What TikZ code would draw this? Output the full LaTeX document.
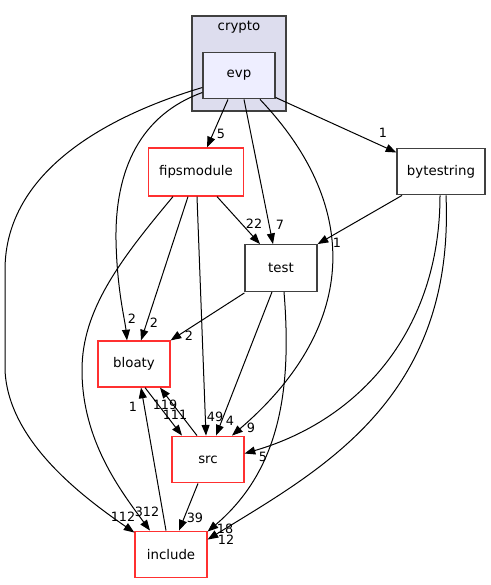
\documentclass[tikz,border=0pt]{standalone}
\usepackage{fontspec}
\setmainfont{DejaVu Sans}
\usetikzlibrary{calc,arrows.meta}
\definecolor{clfill}{HTML}{DDDDEE}
\definecolor{evpfill}{HTML}{EEEEFF}
\definecolor{bord}{HTML}{404040}
\definecolor{redb}{HTML}{FF3030}
\tikzset{
  dirbox/.style={draw=bord, line width=0.9pt, fill=white, minimum width=54pt, minimum height=35pt, inner sep=0pt, font=\fontsize{10}{12}\selectfont},
  redbox/.style={dirbox, draw=redb},
  edge/.style={draw=black, line width=0.75pt, -{Triangle[length=8pt,width=6pt]}},
  elab/.style={font=\fontsize{9.6}{11}\selectfont, inner sep=0pt}
}
\begin{document}
\begin{tikzpicture}[x=0.75pt,y=-0.75pt]
\useasboundingbox (0,0) rectangle (491,585);
\fill[white] (0,0) rectangle (491,585);
% cluster
\draw[draw=bord, line width=0.9pt, fill=clfill] (192,16) rectangle (286,111);
\node[elab, font=\fontsize{10}{12}\selectfont] (crypto) at (239,27) {crypto};
% nodes
\node[dirbox, fill=evpfill] (evp) at (239,75.5) {evp};
\node[redbox, minimum width=71.25pt, minimum height=36pt] (fips) at (196,172) {fipsmodule};
\node[dirbox, minimum width=66pt] (bytestring) at (441,171.5) {bytestring};
\node[dirbox] (test) at (281,268) {test};
\node[redbox, minimum height=34.5pt] (bloaty) at (134,364) {bloaty};
\node[redbox] (src) at (208,459.5) {src};
\node[redbox] (include) at (171,554.5) {include};
% edges
\draw[edge] ($(evp.south)+(-11,0)$) -- ($(fips.north)+(11,0)$);
\node[elab] (l1) at (221,134) {5};
\draw[edge] ($(evp.east)+(0,22)$) -- ($(bytestring.west)+(0,-19)$);
\node[elab] (l2) at (383,133) {1};
\draw[edge] ($(evp.south)+(5,0)$) -- ($(test.north)+(-8,0)$);
\node[elab] (l3) at (280,225) {7};
\draw[edge] ($(evp.south)+(21,0)$) .. controls (365,210) and (355,330) .. ($(src.north)+(24,0)$);
\node[elab] (l4) at (251,428) {9};
\draw[edge] ($(evp.west)+(0,17)$) .. controls (140,115) and (115,170) .. (116,240) .. controls (117,290) and (125,320) .. ($(bloaty.north)+(-7,0)$);
\node[elab] (l5) at (132,319) {2};
\draw[edge] ($(evp.west)+(0,12)$) .. controls (110,115) and (5,170) .. (5,270) -- (5,370) .. controls (8,440) and (80,495) .. ($(include.north west)+(0,2)$);
\node[elab] (l6) at (123,517) {112};
\draw[edge] ($(fips.south)+(21,0)$) -- ($(test.north)+(-21,0)$);
\node[elab] (l7) at (254,224) {22};
\draw[edge] ($(fips.south)+(-8,0)$) -- ($(bloaty.north)+(7,0)$);
\node[elab] (l8) at (154,323) {2};
\draw[edge] ($(fips.south)+(1,0)$) -- ($(src.north)+(-2,0)$);
\node[elab] (l9) at (215,417) {49};
\draw[edge] ($(fips.south)+(-23,0)$) .. controls (120,260) and (82,310) .. (82,370) .. controls (82,440) and (120,490) .. ($(include.north)+(-21,0)$);
\node[elab] (l10) at (147,512) {312};
\draw[edge] ($(bytestring.south)+(-39,0)$) -- (test.north east);
\node[elab] (l11) at (337,243) {1};
\draw[edge] ($(bytestring.south)+(-1,0)$) .. controls (440,330) and (360,420) .. ($(src.east)+(0,-6)$);
\node[elab] (l12) at (263,457) {5};
\draw[edge] ($(bytestring.south)+(5,0)$) .. controls (455,400) and (320,470) .. ($(include.north east)+(0,9)$);
\node[elab] (l13) at (226,540) {12};
\draw[edge] ($(test.south west)+(0,1)$) -- (bloaty.north east);
\node[elab] (l14) at (189,336) {2};
\draw[edge] ($(test.south)+(-9,0)$) -- ($(src.north)+(8,0)$);
\node[elab] (l15) at (230,421) {4};
\draw[edge] ($(test.south)+(3,0)$) .. controls (292,390) and (280,470) .. ($(include.north east)+(0,1)$);
\node[elab] (l16) at (225,529) {18};
\draw[edge] ($(bloaty.south)+(11,0)$) -- ($(src.north)+(-26,0)$);
\node[elab] (l17) at (175,415) {111};
\draw[edge] ($(src.north)+(-11,0)$) -- ($(bloaty.south)+(26,0)$);
\node[elab] (l18) at (165,405) {119};
\draw[edge] ($(src.south)+(-10,0)$) -- ($(include.north)+(8,0)$);
\node[elab] (l19) at (195,518) {39};
\draw[edge] ($(include.north)+(-5,0)$) -- ($(bloaty.south)+(7,0)$);
\node[elab] (l20) at (133,407) {1};
\end{tikzpicture}
\end{document}
